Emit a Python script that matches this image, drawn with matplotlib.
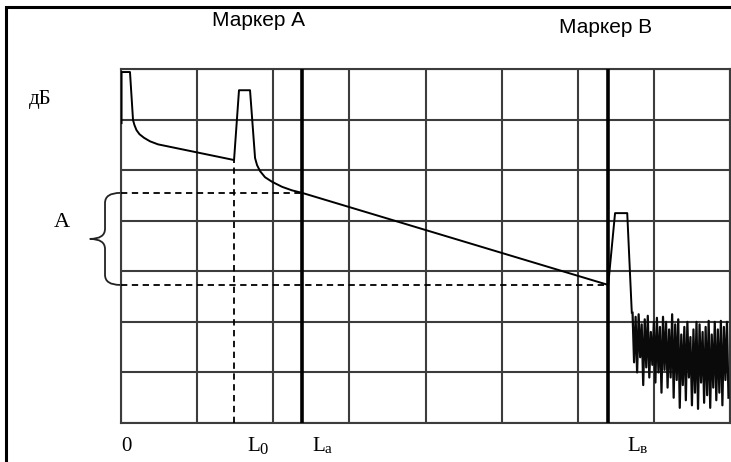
import matplotlib
matplotlib.use("Agg")
import matplotlib.pyplot as plt
from matplotlib.path import Path
from matplotlib.patches import PathPatch, Rectangle

# reflectogram trace (distance in grid divisions, level in dB divisions)
trace_x = [0.007, 0.007, 0.118, 0.158, 0.177, 0.204, 0.243, 0.302, 0.381, 0.486, 1.485,
           1.55, 1.695, 1.761, 1.787, 1.827, 1.892, 1.984, 2.116, 2.247, 2.38,
           6.40, 6.49, 6.65, 6.71]
trace_y = [5.93, 6.94, 6.94, 5.99, 5.89, 5.79, 5.71, 5.64, 5.57, 5.51, 5.20,
           6.58, 6.58, 5.24, 5.10, 4.98, 4.86, 4.77, 4.67, 4.60, 4.55,
           2.73, 4.15, 4.15, 2.18]

# noise tail after the far end
noise_x = [6.72, 6.74, 6.76, 6.78, 6.80, 6.82, 6.84, 6.86, 6.88, 6.90,
           6.92, 6.94, 6.96, 6.98, 7.00, 7.02, 7.04, 7.06, 7.08, 7.10,
           7.12, 7.14, 7.16, 7.18, 7.20, 7.22, 7.24, 7.26, 7.28, 7.30,
           7.32, 7.34, 7.36, 7.38, 7.40, 7.42, 7.44, 7.46, 7.48, 7.50,
           7.52, 7.54, 7.56, 7.58, 7.60, 7.62, 7.64, 7.66, 7.68, 7.70,
           7.72, 7.74, 7.76, 7.78, 7.80, 7.82, 7.84, 7.86, 7.88, 7.90,
           7.92, 7.94, 7.96, 7.98]
noise_y = [2.18, 1.20, 2.10, 1.00, 2.15, 1.30, 1.95, 0.75, 2.05, 1.10,
           2.12, 0.90, 1.80, 1.15, 2.00, 0.80, 2.08, 1.00, 1.90, 0.60,
           2.10, 1.05, 2.00, 0.70, 1.85, 0.90, 2.15, 0.50, 1.95, 0.85,
           2.05, 0.30, 1.75, 0.75, 1.90, 0.45, 2.00, 0.90, 1.70, 0.35,
           1.85, 0.60, 2.00, 0.28, 1.95, 0.80, 1.80, 0.40, 1.90, 0.55,
           2.02, 0.30, 1.75, 0.70, 2.00, 0.45, 1.85, 0.60, 2.02, 0.35,
           1.90, 0.85, 2.00, 0.50]

marker_a = 2.38
marker_b = 6.40
l0 = 1.485
level_a = 4.55
level_b = 2.73
l0_level = 5.20

# distance labels along the bottom: (left edge of "L", subscript)
dist_labels = [(1.66, "0"), (2.51, "a"), (6.65, "в")]

fig = plt.figure(figsize=(7.31, 4.62), dpi=100)
fig.patch.set_facecolor("white")
ax = fig.add_axes([121 / 731, 1 - 423 / 462, 609 / 731, 354 / 462])
ax.set_xlim(0, 8)
ax.set_ylim(0, 7)
ax.set_xticks(range(9))
ax.set_yticks(range(8))
ax.tick_params(length=0, labelbottom=False, labelleft=False)
ax.grid(True, color="#3c3c3c", linewidth=1.5)
for s in ax.spines.values():
    s.set_color("#3c3c3c")
    s.set_linewidth(1.5)

ax.plot(trace_x, trace_y, color="black", lw=1.4, zorder=4, solid_joinstyle="round")
ax.plot(noise_x, noise_y, color="#0a0a0a", lw=1.6, zorder=4)

ax.axvline(marker_a, color="black", lw=2.6, zorder=5)
ax.axvline(marker_b, color="black", lw=2.6, zorder=5)

dash = (0, (3.5, 2.5))
ax.plot([0, marker_a], [level_a, level_a], color="black", lw=1.3, linestyle=dash, zorder=3)
ax.plot([0, marker_b], [level_b, level_b], color="black", lw=1.3, linestyle=dash, zorder=3)
ax.plot([l0, l0], [0, l0_level], color="black", lw=1.3, linestyle=dash, zorder=3)

# curly brace for A
verts = [(-0.01, level_a), (-0.21, level_a), (-0.21, level_a - 0.2),
         (-0.21, 3.84), (-0.21, 3.64), (-0.41, 3.64),
         (-0.21, 3.64), (-0.21, 3.44),
         (-0.21, level_b + 0.2), (-0.21, level_b), (-0.01, level_b)]
codes = [Path.MOVETO, Path.CURVE3, Path.CURVE3,
         Path.LINETO, Path.CURVE3, Path.CURVE3,
         Path.CURVE3, Path.CURVE3,
         Path.LINETO, Path.CURVE3, Path.CURVE3]
ax.add_patch(PathPatch(Path(verts, codes), fill=False, lw=1.3,
                       edgecolor="#222222", clip_on=False))

serif = "Liberation Serif"
sans = "Liberation Sans"
ax.text(1.8, 7.95, "Маркер А", fontsize=15, family=sans, ha="center", va="center")
ax.text(6.36, 7.83, "Маркер В", fontsize=15, family=sans, ha="center", va="center")
ax.text(-1.06, 6.39, "дБ", fontsize=15, family=serif, ha="center", va="center")
ax.text(-0.78, 3.97, "A", fontsize=16, family=serif, ha="center", va="center")

ax.text(0.0, -0.47, "0", fontsize=15, family=serif, ha="left", va="center")
for pos, sub in dist_labels:
    ax.text(pos, -0.47, "L", fontsize=15, family=serif, ha="left", va="center")
    ax.text(pos + 0.16, -0.53, sub, fontsize=12 if sub == "0" else 11,
            family=serif, ha="left", va="center")

fig.patches.append(Rectangle((6 / 731, -0.1), 2.0, 1 - 7 / 462 + 0.1,
                             transform=fig.transFigure, fill=False,
                             lw=2.2, edgecolor="black"))

fig.savefig("out.png", dpi=100)
